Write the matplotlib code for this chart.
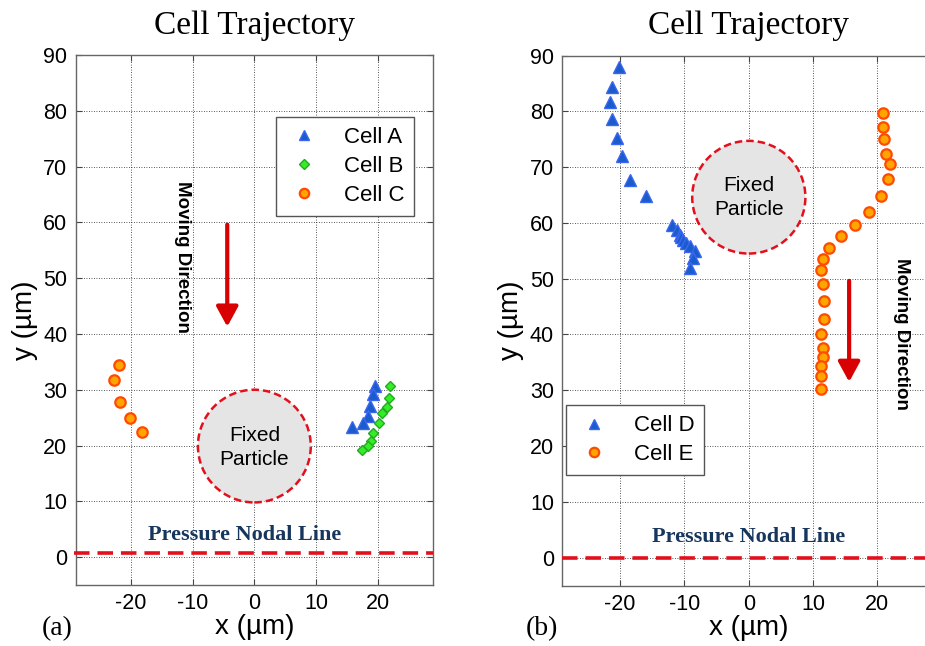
import matplotlib
matplotlib.use('Agg')
import matplotlib.pyplot as plt
from matplotlib.patches import Ellipse

plt.rcParams['axes.unicode_minus'] = False

# ---------------- data ----------------
# panel (a)
cellA_x = [19.6, 19.2, 18.8, 18.4, 17.6, 15.8]
cellA_y = [30.7, 29.3, 27.1, 25.3, 24.1, 23.3]
cellB_x = [22.0, 21.8, 21.6, 20.7, 20.3, 19.3, 19.0, 18.5, 17.5]
cellB_y = [30.7, 28.6, 26.9, 25.9, 24.0, 22.3, 20.8, 19.9, 19.2]
cellC_x = [-22.0, -22.8, -21.8, -20.2, -18.2]
cellC_y = [34.4, 31.7, 27.8, 25.0, 22.5]
# panel (b)
cellD_x = [-20.2, -21.2, -21.6, -21.2, -20.5, -19.7, -18.4, -16.0, -12.0, -11.2,
           -10.7, -10.5, -10.2, -9.8, -9.2, -8.4, -8.6, -9.1]
cellD_y = [88.0, 84.4, 81.6, 78.6, 75.3, 72.0, 67.7, 64.8, 59.7, 58.8,
           57.9, 57.4, 57.0, 56.4, 55.8, 54.9, 53.7, 51.9]
cellE_x = [20.9, 20.9, 21.0, 21.4, 22.0, 21.7, 20.5, 18.7, 16.5, 14.3, 12.5,
           11.6, 11.3, 11.6, 11.7, 11.7, 11.2, 11.5, 11.5, 11.3, 11.3, 11.2]
cellE_y = [79.7, 77.1, 75.0, 72.4, 70.5, 67.8, 64.8, 62.0, 59.6, 57.6, 55.5,
           53.6, 51.5, 49.0, 46.0, 42.8, 40.0, 37.6, 36.0, 34.3, 32.6, 30.2]

x_ticks = [-20, -10, 0, 10, 20]
y_ticks = [0, 10, 20, 30, 40, 50, 60, 70, 80, 90]

SANS = 'Liberation Sans'
SERIF = 'Liberation Serif'
RED = '#e3101c'
ARROW_RED = '#d80000'
NAVY = '#17365d'

tri_style = dict(marker='^', ms=8.5, mfc='#1a5ccc', mec='#3a66f0', mew=1.0, ls='none')
dia_style = dict(marker='D', ms=5.5, mfc='#33ee22', mec='#22aa22', mew=1.0, ls='none')
cir_style = dict(marker='o', ms=7.5, mfc='#ffa500', mec='#ff4a00', mew=1.6, ls='none')

fig = plt.figure(figsize=(9.25, 6.46), dpi=100)
W, H = 925.0, 646.0
axA = fig.add_axes([75.7 / W, 1 - 585 / H, 357.3 / W, 530 / H])
axB = fig.add_axes([562.3 / W, 1 - 585.5 / H, 373 / W, 530 / H])


def style_axes(ax):
    ax.set_xlim(-29, 29)
    ax.set_ylim(-5, 90)
    ax.set_xticks(x_ticks)
    ax.set_yticks(y_ticks)
    ax.grid(True, color='#222222', lw=0.6, dashes=(1, 2.0))
    ax.set_axisbelow(True)
    ax.tick_params(direction='in', top=True, right=True, length=4,
                   labelsize=15.5, color='#444444', pad=6)
    for lab in ax.get_xticklabels() + ax.get_yticklabels():
        lab.set_fontfamily(SANS)
    for s in ax.spines.values():
        s.set_color('#666666')
        s.set_linewidth(1.0)
    ax.set_xlabel('x (\u00b5m)', fontsize=20, family=SANS, labelpad=0)
    ax.set_ylabel('y (\u00b5m)', fontsize=20, family=SANS, labelpad=4)


for ax in (axA, axB):
    style_axes(ax)

# ---------------- panel (a) ----------------
axA.add_patch(Ellipse((0, 19.9), 2 * 9.16, 2 * 10.1, facecolor='#e5e5e5',
                      edgecolor=RED, lw=1.8, ls=(0, (3, 1.6)), zorder=2))
axA.text(0, 19.7, 'Fixed\nParticle', ha='center', va='center', fontsize=15,
         family=SANS, linespacing=1.35, zorder=3)
axA.plot([-29.3, 29], [0.8, 0.8], color=RED, lw=2.6, dashes=(4.3, 2.2),
         clip_on=False, zorder=3)
axA.text(-1.6, 3.9, 'Pressure Nodal Line', ha='center', va='center',
         fontsize=16, family=SERIF, weight='bold', color=NAVY)
axA.annotate('', xy=(-4.4, 41.3), xytext=(-4.4, 59.6),
             arrowprops=dict(arrowstyle='-|>,head_width=0.3,head_length=0.55',
                             color=ARROW_RED, lw=3, mutation_scale=22,
                             shrinkA=0, shrinkB=0))
axA.text(-11.7, 53.8, 'Moving Direction', rotation=-90, ha='center',
         va='center', fontsize=13.5, family=SANS, weight='bold')

hA, = axA.plot(cellA_x, cellA_y, **tri_style, label='Cell A', zorder=4)
hB, = axA.plot(cellB_x, cellB_y, **dia_style, label='Cell B', zorder=5)
hC, = axA.plot(cellC_x, cellC_y, **cir_style, label='Cell C', zorder=4)
legA = axA.legend(handles=[hA, hB, hC], loc='upper right',
                  bbox_to_anchor=(0.947, 0.883), prop={'family': SANS, 'size': 16},
                  fancybox=False, framealpha=1, edgecolor='#555555',
                  handlelength=1.6, handletextpad=1.0, borderpad=0.45,
                  labelspacing=0.35, markerscale=0.9, borderaxespad=0)
legA.get_frame().set_linewidth(1.0)

# ---------------- panel (b) ----------------
axB.add_patch(Ellipse((0, 64.6), 2 * 8.8, 2 * 10.1, facecolor='#e5e5e5',
                      edgecolor=RED, lw=1.8, ls=(0, (3, 1.6)), zorder=2))
axB.text(0, 64.6, 'Fixed\nParticle', ha='center', va='center', fontsize=15,
         family=SANS, linespacing=1.35, zorder=3)
axB.plot([-29, 29], [0, 0], color=RED, lw=2.6, dashes=(4.3, 2.2),
         clip_on=False, zorder=3)
axB.text(0, 3.7, 'Pressure Nodal Line', ha='center', va='center',
         fontsize=16, family=SERIF, weight='bold', color=NAVY)
axB.annotate('', xy=(15.6, 31.5), xytext=(15.6, 49.6),
             arrowprops=dict(arrowstyle='-|>,head_width=0.3,head_length=0.55',
                             color=ARROW_RED, lw=3, mutation_scale=22,
                             shrinkA=0, shrinkB=0))
axB.text(23.7, 40.1, 'Moving Direction', rotation=-90, ha='center',
         va='center', fontsize=13.5, family=SANS, weight='bold')

hD, = axB.plot(cellD_x, cellD_y, **tri_style, label='Cell D', zorder=4)
hE, = axB.plot(cellE_x, cellE_y, **cir_style, label='Cell E', zorder=4)
legB = axB.legend(handles=[hD, hE], loc='upper left',
                  bbox_to_anchor=(0.01, 0.34), prop={'family': SANS, 'size': 16},
                  fancybox=False, framealpha=1, edgecolor='#555555',
                  handlelength=1.6, handletextpad=1.0, borderpad=0.45,
                  labelspacing=0.35, markerscale=0.9, borderaxespad=0)
legB.get_frame().set_linewidth(1.0)

# ---------------- titles / panel labels ----------------
fig.text(254 / W, 1 - 26 / H, 'Cell Trajectory', ha='center', va='center',
         fontsize=24, family=SERIF)
fig.text(748 / W, 1 - 26 / H, 'Cell Trajectory', ha='center', va='center',
         fontsize=24, family=SERIF)
fig.text(57 / W, 1 - 629 / H, '(a)', ha='center', va='center', fontsize=20,
         family=SERIF)
fig.text(542 / W, 1 - 629 / H, '(b)', ha='center', va='center', fontsize=20,
         family=SERIF)

fig.savefig('out.png', dpi=100)
